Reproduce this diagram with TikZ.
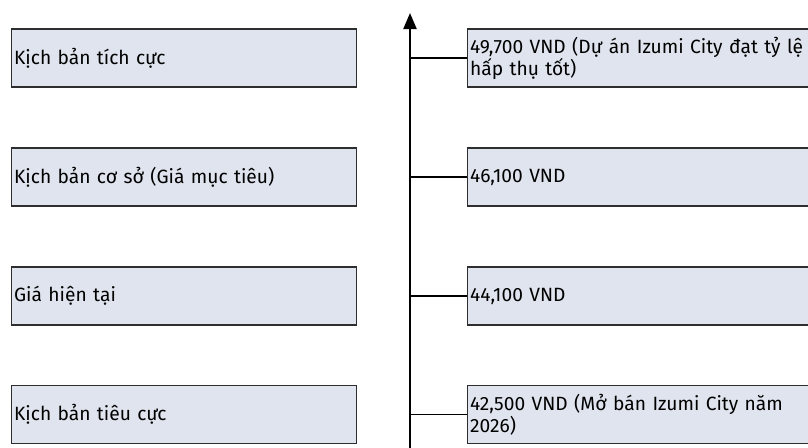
\documentclass[tikz,border=0pt]{standalone}
\usepackage{fontspec}
\setmainfont{Fira Sans}
\usetikzlibrary{arrows.meta,positioning}
\definecolor{CaseFill}{HTML}{DFE4EE}
\definecolor{CaseLine}{HTML}{2E2E2E}
\tikzset{
  casebox/.style={draw=CaseLine, fill=CaseFill, line width=1.2pt, rectangle, anchor=west,
    minimum width=345pt, minimum height=58pt, text width=340pt, inner xsep=2pt,
    align=left, font=\fontsize{19.2}{22}\selectfont},
  axisline/.style={-{Triangle[length=16pt,width=13pt]}, line width=2.2pt, draw=black},
  tickline/.style={line width=1.5pt, draw=black}
}
\begin{document}
\begin{tikzpicture}[x=1pt,y=-1pt]
  \useasboundingbox (0,0) rectangle (808,447);
  % left column: scenarios
  \node[casebox] (sc1) at (11,58) {Kịch bản tích cực};
  \node[casebox] (sc2) at (11,177) {Kịch bản cơ sở (Giá mục tiêu)};
  \node[casebox] (sc3) at (11,296) {Giá hiện tại};
  \node[casebox] (sc4) at (11,414.5) {Kịch bản tiêu cực};
  % right column: prices
  \node[casebox] (pr1) at (467,58) {49,700 VND (Dự án Izumi City đạt tỷ lệ\\hấp thụ tốt)};
  \node[casebox] (pr2) at (467,177) {46,100 VND};
  \node[casebox] (pr3) at (467,296) {44,100 VND};
  \node[casebox] (pr4) at (467,414.5) {42,500 VND (Mở bán Izumi City năm\\2026)};
  % price axis
  \coordinate (axbot) at (410,448);
  \coordinate (axtop) at (410,13);
  \draw[axisline] (axbot) -- (axtop);
  \foreach \i in {1,...,4} {
    \draw[tickline] (pr\i.west) -- (pr\i.west -| axtop);
  }
\end{tikzpicture}
\end{document}
